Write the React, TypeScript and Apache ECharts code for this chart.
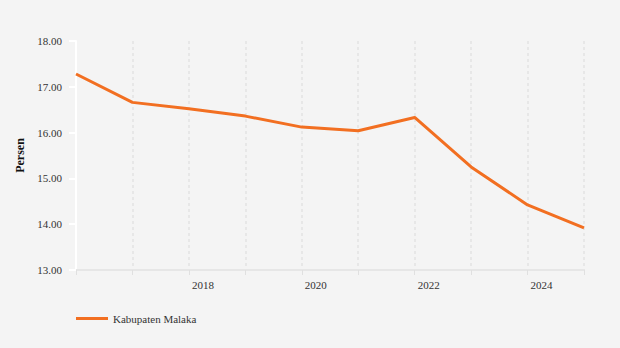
import React, { useEffect, useRef } from "react";
import * as echarts from "echarts";

const years = ["2016", "2017", "2018", "2019", "2020", "2021", "2022", "2023", "2024", "2025"];
const values = [17.28, 16.66, 16.52, 16.36, 16.12, 16.04, 16.33, 15.25, 14.42, 13.92];
const seriesName = "Kabupaten Malaka";
const yAxisName = "Persen";
const shownYears = ["2018", "2020", "2022", "2024"];

const FONT = "'Liberation Serif', 'Times New Roman', serif";

export default function App() {
  const ref = useRef<HTMLDivElement>(null);
  useEffect(() => {
    if (!ref.current) return;
    const chart = echarts.init(ref.current, undefined, { renderer: "svg" });
    chart.setOption({
      animation: false,
      backgroundColor: "#f4f4f4",
      textStyle: { fontFamily: FONT },
      grid: { left: 76, right: 36, top: 41, bottom: 78, containLabel: false },
      legend: {
        left: 71,
        top: 308,
        icon: "rect",
        itemWidth: 32,
        itemHeight: 3,
        itemGap: 10,
        textStyle: { fontFamily: FONT, fontSize: 11, color: "#333" },
        data: [seriesName],
      },
      xAxis: {
        type: "category",
        data: years,
        boundaryGap: false,
        axisLine: { show: true, lineStyle: { color: "#e6e6e6", width: 2 } },
        axisTick: { show: true, interval: 0, length: 5, lineStyle: { color: "#e0e0e0" } },
        axisLabel: {
          interval: (_i: number, v: string) => shownYears.includes(v),
          align: "left",
          padding: [0, 0, 0, 3],
          margin: 9,
          fontFamily: FONT,
          fontSize: 11,
          color: "#333",
        },
        splitLine: {
          show: true,
          interval: 0,
          lineStyle: { color: "#e2e2e2", type: [3, 3], width: 1.5 },
        },
      },
      yAxis: {
        type: "value",
        min: 13,
        max: 18,
        interval: 1,
        name: yAxisName,
        nameLocation: "middle",
        nameGap: 43,
        nameTextStyle: { fontFamily: FONT, fontSize: 12, fontWeight: "bold", color: "#111" },
        axisLine: { show: true, lineStyle: { color: "#ffffff", width: 2 } },
        axisTick: { show: true, length: 7, lineStyle: { color: "#ffffff", width: 2 } },
        axisLabel: {
          margin: 14,
          fontFamily: FONT,
          fontSize: 11,
          color: "#333",
          formatter: (v: number) => v.toFixed(2),
        },
        splitLine: { show: false },
      },
      series: [
        {
          name: seriesName,
          type: "line",
          data: values,
          symbol: "none",
          lineStyle: { color: "#f26f21", width: 3 },
          itemStyle: { color: "#f26f21" },
        },
      ],
    });
    return () => chart.dispose();
  }, []);
  return <div ref={ref} style={{ width: 620, height: 348, position: "absolute", left: 0, top: 0 }} />;
}
